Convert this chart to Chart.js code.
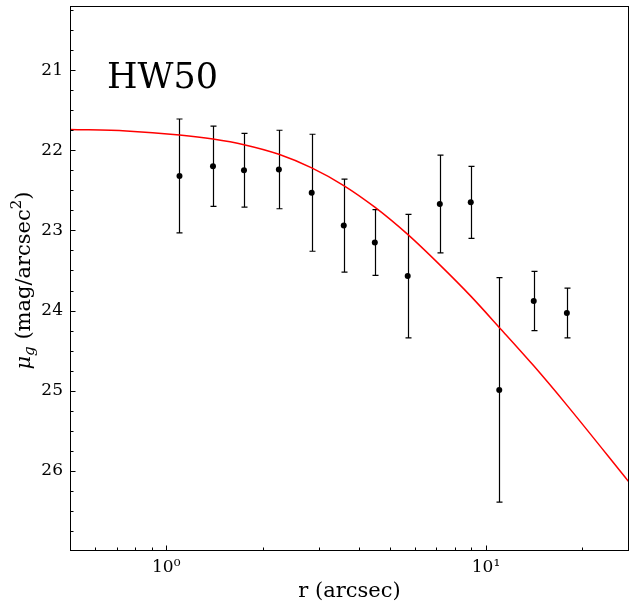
<!DOCTYPE html>
<html>
<head>
<meta charset="utf-8">
<script src="https://cdn.jsdelivr.net/npm/chart.js@4/dist/chart.umd.min.js"></script>
<style>
  html, body { margin: 0; padding: 0; background: #fff; }
  #wrap { width: 634px; height: 608px; position: relative; }
</style>
</head>
<body>
<div id="wrap"><canvas id="profile"></canvas></div>
<script>
// ---- data ----------------------------------------------------------------
// measured surface brightness points
var radius = [1.10, 1.40, 1.75, 2.25, 2.85, 3.59, 4.49, 5.69, 7.17, 8.96, 11.0, 14.1, 17.9];
var mu     = [22.32, 22.20, 22.25, 22.24, 22.53, 22.94, 23.15, 23.57, 22.67, 22.65, 24.99, 23.88, 24.03];
var muErr  = [0.71, 0.50, 0.46, 0.49, 0.73, 0.58, 0.41, 0.77, 0.61, 0.45, 1.40, 0.37, 0.31];

// fitted model (red curve)
var modelR  = [0.5, 0.75, 1.10, 1.40, 1.75, 2.25, 2.85, 3.59, 4.49, 5.69, 7.17, 8.96, 11.0, 14.1, 17.9, 28];
var modelMu = [21.74, 21.76, 21.81, 21.86, 21.93, 22.05, 22.22, 22.44, 22.71, 23.05, 23.43, 23.82, 24.21, 24.69, 25.18, 26.14];

// axes
var xMajorTicks = [1, 10];
var xMinorTicks = [0.6, 0.7, 0.8, 0.9, 2, 3, 4, 5, 6, 7, 8, 9, 20];
var yMajorTicks = [21, 22, 23, 24, 25, 26];
var yMinorStep = 0.25;

var galaxyName = 'HW50';
var serif = "'DejaVu Serif', serif";

// ---- helpers ---------------------------------------------------------------
function supDigit(n) {
    return ['\u2070', '\u00B9', '\u00B2', '\u00B3'][n];
}

// error bars, inward ticks, frame and texts
var decorations = {
    id: 'decorations',
    beforeDatasetsDraw: function(chart) {
        var ctx = chart.ctx, xs = chart.scales.x, ys = chart.scales.y;
        ctx.save();
        ctx.strokeStyle = '#000';
        ctx.lineWidth = 1.2;
        for (var i = 0; i < radius.length; i++) {
            var px = Math.round(xs.getPixelForValue(radius[i])) + 0.5;
            var top = ys.getPixelForValue(mu[i] - muErr[i]);
            var bot = ys.getPixelForValue(mu[i] + muErr[i]);
            ctx.beginPath();
            ctx.moveTo(px, top); ctx.lineTo(px, bot);
            ctx.moveTo(px - 3, top); ctx.lineTo(px + 3, top);
            ctx.moveTo(px - 3, bot); ctx.lineTo(px + 3, bot);
            ctx.stroke();
        }
        ctx.restore();
    },
    afterDraw: function(chart) {
        var ctx = chart.ctx, a = chart.chartArea, xs = chart.scales.x, ys = chart.scales.y;
        ctx.save();
        ctx.strokeStyle = '#000';
        ctx.lineWidth = 1;

        // frame
        ctx.strokeRect(Math.round(a.left) + 0.5, Math.round(a.top) + 0.5,
                       Math.round(a.right - a.left) - 1, Math.round(a.bottom - a.top) - 1);

        // ticks pointing inward
        ctx.beginPath();
        var bottom = Math.round(a.bottom) - 0.5, left = Math.round(a.left) + 0.5;
        xMajorTicks.forEach(function(v) {
            var p = Math.round(xs.getPixelForValue(v)) + 0.5;
            ctx.moveTo(p, bottom); ctx.lineTo(p, bottom - 5);
        });
        xMinorTicks.forEach(function(v) {
            var p = Math.round(xs.getPixelForValue(v)) + 0.5;
            ctx.moveTo(p, bottom); ctx.lineTo(p, bottom - 3);
        });
        for (var v = Math.ceil(ys.min / yMinorStep) * yMinorStep; v < ys.max - 0.01; v += yMinorStep) {
            var p = Math.round(ys.getPixelForValue(v)) + 0.5;
            var len = yMajorTicks.indexOf(Math.round(v * 100) / 100) >= 0 ? 5 : 3;
            ctx.moveTo(left, p); ctx.lineTo(left + len, p);
        }
        ctx.stroke();

        ctx.fillStyle = '#000';

        // galaxy name
        ctx.font = '35px ' + serif;
        ctx.textAlign = 'left';
        ctx.textBaseline = 'alphabetic';
        ctx.fillText(galaxyName, a.left + 37, a.top + 82);

        // x title
        ctx.font = '21px ' + serif;
        ctx.textAlign = 'center';
        ctx.fillText('r (arcsec)', (a.left + a.right) / 2, 597);

        // y title with subscript and superscript
        var parts = [
            { t: '\u03BC', f: 'italic 21px ' + serif, dy: 0 },
            { t: 'g', f: 'italic 15px ' + serif, dy: 4 },
            { t: ' (mag/arcsec', f: '21px ' + serif, dy: 0 },
            { t: '2', f: '15px ' + serif, dy: -9 },
            { t: ')', f: '21px ' + serif, dy: 0 }
        ];
        var total = 0;
        parts.forEach(function(p) { ctx.font = p.f; p.w = ctx.measureText(p.t).width; total += p.w; });
        ctx.translate(30, (a.top + a.bottom) / 2 + 2);
        ctx.rotate(-Math.PI / 2);
        ctx.textAlign = 'left';
        var cx = -total / 2;
        parts.forEach(function(p) {
            ctx.font = p.f;
            ctx.fillText(p.t, cx, p.dy);
            cx += p.w;
        });
        ctx.restore();
    }
};

Chart.defaults.font.family = serif;
Chart.defaults.color = '#000';

var ctxProfile = document.getElementById('profile').getContext('2d');
var profileChart = new Chart(ctxProfile, {
    type: 'scatter',
    data: {
        datasets: [{
            label: 'model',
            type: 'line',
            data: modelR.map(function(r, i) { return { x: r, y: modelMu[i] }; }),
            borderColor: 'red',
            borderWidth: 1.5,
            pointRadius: 0,
            fill: false,
            cubicInterpolationMode: 'monotone',
            order: 0
        }, {
            label: 'data',
            data: radius.map(function(r, i) { return { x: r, y: mu[i] }; }),
            backgroundColor: '#000',
            borderWidth: 0,
            pointRadius: 3,
            order: 1
        }]
    },
    options: {
        responsive: true,
        maintainAspectRatio: false,
        animation: false,
        layout: { padding: { top: 6, right: 5, left: 0, bottom: 0 } },
        plugins: {
            legend: { display: false },
            tooltip: { enabled: false }
        },
        scales: {
            x: {
                type: 'logarithmic',
                min: 0.5,
                max: 28,
                grid: { display: false, drawTicks: false },
                border: { display: false },
                afterBuildTicks: function(scale) {
                    scale.ticks = xMajorTicks.map(function(v) { return { value: v }; });
                },
                afterFit: function(scale) {
                    scale.height = 57;
                    scale.paddingLeft = 0;
                    scale.paddingRight = 0;
                },
                ticks: {
                    autoSkip: false,
                    maxRotation: 0,
                    padding: 6,
                    font: { size: 17 },
                    callback: function(value) {
                        return '10' + supDigit(Math.round(Math.log10(value)));
                    }
                }
            },
            y: {
                type: 'linear',
                reverse: true,
                min: 20.2,
                max: 27.0,
                grid: { display: false, drawTicks: false },
                border: { display: false },
                afterBuildTicks: function(scale) {
                    scale.ticks = yMajorTicks.map(function(v) { return { value: v }; });
                },
                afterFit: function(scale) {
                    scale.width = 70;
                    scale.paddingTop = 0;
                    scale.paddingBottom = 0;
                },
                ticks: {
                    autoSkip: false,
                    padding: 7,
                    font: { size: 17 },
                    callback: function(value) { return value; }
                }
            }
        }
    },
    plugins: [decorations]
});
</script>
</body>
</html>
